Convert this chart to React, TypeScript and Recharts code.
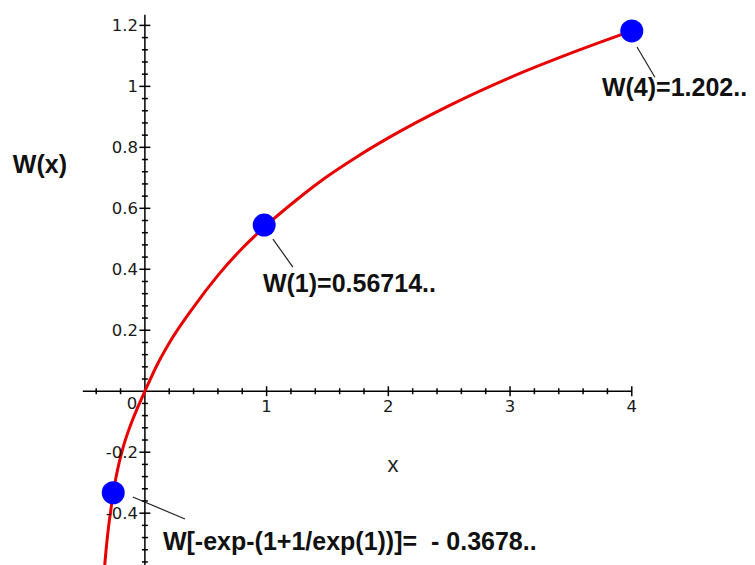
import React from "react";
import { ComposedChart, Line, Scatter, XAxis, YAxis, ReferenceLine, ReferenceDot } from "recharts";

const curveX = [-0.33, -0.32, -0.3, -0.28, -0.26, -0.24, -0.21, -0.17, -0.12, -0.06, 0, 0.1, 0.2, 0.4, 0.6, 0.8, 1, 1.25, 1.5, 1.75, 2, 2.5, 3, 3.5, 4];
const curveW = [-0.57, -0.525, -0.45, -0.39, -0.333, -0.288, -0.232, -0.172, -0.113, -0.054, 0, 0.086, 0.158, 0.276, 0.38, 0.469, 0.545, 0.629, 0.705, 0.771, 0.831, 0.937, 1.029, 1.109, 1.182];

const pointX = [-0.26, 0.98, 4];
const pointW = [-0.333, 0.545, 1.182];

const xMajorTicks = [1, 2, 3, 4];
const xMajorLabels = ["1", "2", "3", "4"];
const yMajorTicks = [1.2, 1, 0.8, 0.6, 0.4, 0.2, -0.2, -0.4];
const yMajorLabels = ["1.2", "1", "0.8", "0.6", "0.4", "0.2", "-0.2", "-0.4"];

const xMinorStep = 0.2;
const yMinorStep = 0.04;

const annotations = [
  { text: "W(4)=1.202..", x: 3.755, y: 0.998 },
  { text: "W(1)=0.56714..", x: 0.97, y: 0.355 },
  { text: "W[-exp-(1+1/exp(1))]=  - 0.3678..", x: 0.148, y: -0.491 },
  { text: "W(x)", x: -1.085, y: 0.745 },
];

const leaders = [
  [{ x: 4.043, y: 1.129 }, { x: 4.19, y: 1.03 }],
  [{ x: 1.052, y: 0.499 }, { x: 1.216, y: 0.407 }],
  [{ x: -0.099, y: -0.347 }, { x: 0.329, y: -0.419 }],
];

const curveData = curveX.map((x, i) => ({ x, w: curveW[i] }));
const pointData = pointX.map((x, i) => ({ x, w: pointW[i] }));

const xMinor: number[] = [];
for (let i = -2; i <= 20; i++) {
  const v = Math.round(i * xMinorStep * 100) / 100;
  if (v !== 0 && !xMajorTicks.includes(v)) xMinor.push(v);
}
const yMinor: number[] = [];
for (let i = -14; i <= 30; i++) {
  const v = Math.round(i * yMinorStep * 100) / 100;
  if (v !== 0 && !yMajorTicks.some((t) => Math.abs(t - v) < 1e-6)) yMinor.push(v);
}

const FONT = "'Liberation Sans', Arial, sans-serif";
const TICKFONT = "'DejaVu Sans', Verdana, sans-serif";

export default function App() {
  return (
    <div style={{ position: "absolute", left: 0, top: 0, width: 755, height: 565, background: "#fff" }}>
      <ComposedChart width={755} height={565} margin={{ top: 1, right: 1.5, bottom: 0, left: 11 }}>
        <XAxis type="number" dataKey="x" domain={[-1.1, 5]} hide allowDataOverflow />
        <YAxis type="number" dataKey="w" domain={[-0.57, 1.28]} hide allowDataOverflow width={0} />
        <ReferenceLine segment={[{ x: -0.51, y: 0 }, { x: 4, y: 0 }]} stroke="#000" strokeWidth={1.5} ifOverflow="visible" />
        <ReferenceLine segment={[{ x: 0, y: -0.57 }, { x: 0, y: 1.235 }]} stroke="#000" strokeWidth={1.5} ifOverflow="visible" />
        {xMinor.map((t) => (
          <ReferenceDot key={"xm" + t} x={t} y={0} ifOverflow="visible"
            shape={(p: any) => <line x1={p.cx} x2={p.cx} y1={p.cy - 3} y2={p.cy + 3} stroke="#000" strokeWidth={1.5} />} />
        ))}
        {xMajorTicks.map((t, i) => (
          <ReferenceDot key={"xM" + t} x={t} y={0} ifOverflow="visible"
            shape={(p: any) => (
              <g>
                <line x1={p.cx} x2={p.cx} y1={p.cy - 5} y2={p.cy + 5} stroke="#000" strokeWidth={1.5} />
                <text x={p.cx} y={p.cy + 15} textAnchor="middle" dominantBaseline="central" fontFamily={TICKFONT} fontSize={16.5} fill="#1a1a1a">{xMajorLabels[i]}</text>
              </g>
            )} />
        ))}
        <ReferenceDot x={0} y={0} ifOverflow="visible"
          shape={(p: any) => <text x={p.cx - 13} y={p.cy + 12} textAnchor="middle" dominantBaseline="central" fontFamily={TICKFONT} fontSize={16.5} fill="#1a1a1a">0</text>} />
        {yMinor.map((t) => (
          <ReferenceDot key={"ym" + t} x={0} y={t} ifOverflow="visible"
            shape={(p: any) => <line x1={p.cx - 3} x2={p.cx + 3} y1={p.cy} y2={p.cy} stroke="#000" strokeWidth={1.5} />} />
        ))}
        {yMajorTicks.map((t, i) => (
          <ReferenceDot key={"yM" + t} x={0} y={t} ifOverflow="visible"
            shape={(p: any) => (
              <g>
                <line x1={p.cx - 5.5} x2={p.cx + 5.5} y1={p.cy} y2={p.cy} stroke="#000" strokeWidth={1.5} />
                <text x={p.cx - 7} y={p.cy} textAnchor="end" dominantBaseline="central" fontFamily={TICKFONT} fontSize={16.5} fill="#1a1a1a">{yMajorLabels[i]}</text>
              </g>
            )} />
        ))}
        {leaders.map((seg, i) => (
          <ReferenceLine key={"ld" + i} segment={seg} stroke="#222" strokeWidth={1.2} ifOverflow="visible" />
        ))}
        <Line data={curveData} dataKey="w" type="monotone" stroke="#e80000" strokeWidth={3} dot={false} isAnimationActive={false} />
        <Scatter data={pointData} dataKey="w" fill="#0000ff" isAnimationActive={false}
          shape={(p: any) => <circle cx={p.cx} cy={p.cy} r={11.5} fill="#0000ff" />} />
        {annotations.map((a, i) => (
          <ReferenceDot key={"an" + i} x={a.x} y={a.y} ifOverflow="visible"
            shape={(p: any) => (
              <text x={p.cx} y={p.cy} textAnchor="start" dominantBaseline="central" fontFamily={FONT} fontSize={25} fontWeight="bold" fill="#111" style={{ whiteSpace: "pre" }}>{a.text}</text>
            )} />
        ))}
        <ReferenceDot x={2.038} y={-0.239} ifOverflow="visible"
          shape={(p: any) => <text x={p.cx} y={p.cy} textAnchor="middle" dominantBaseline="central" fontFamily={FONT} fontSize={22} fill="#222">x</text>} />
      </ComposedChart>
    </div>
  );
}
